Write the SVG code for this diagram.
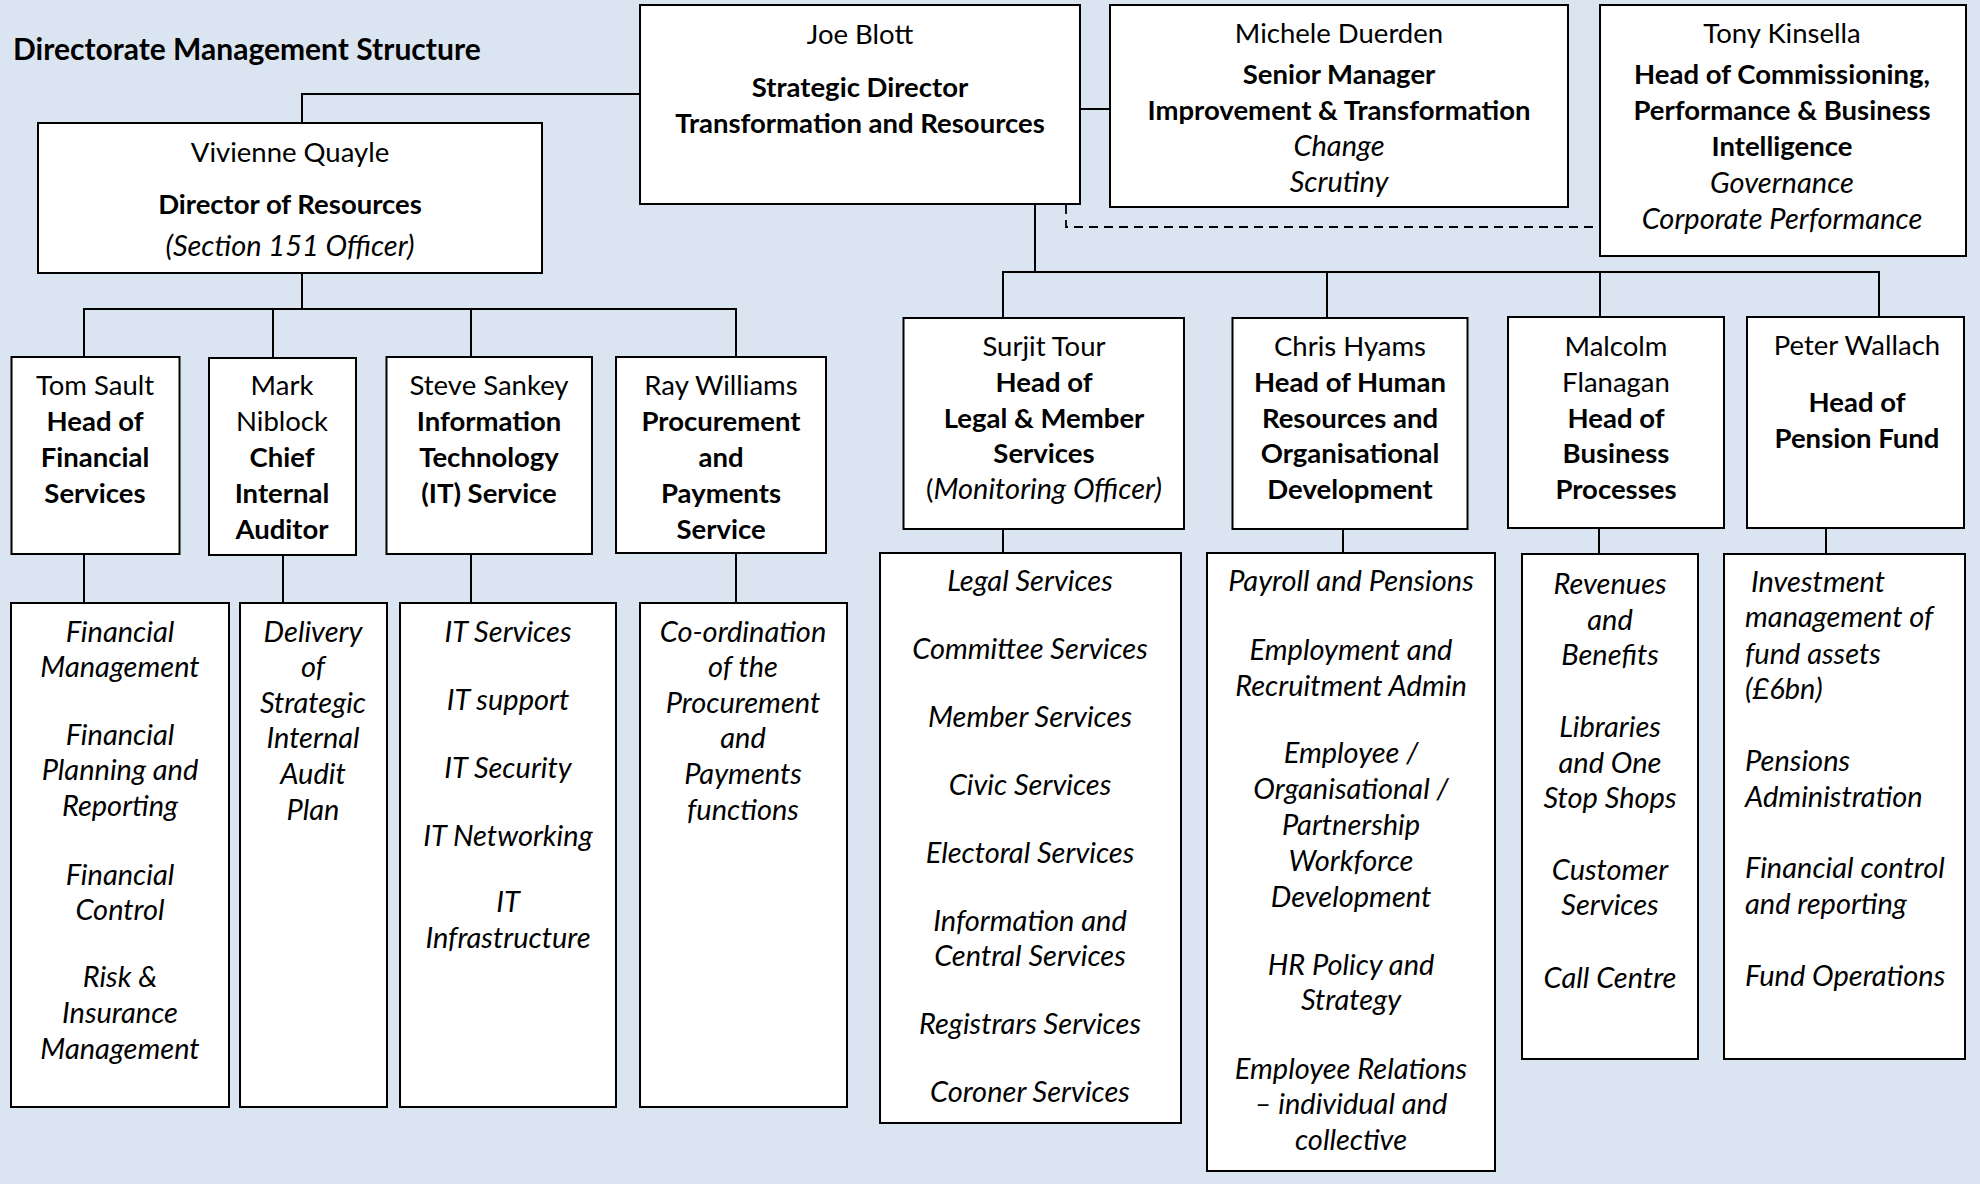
<svg xmlns="http://www.w3.org/2000/svg" width="1980" height="1184" viewBox="0 0 1980 1184">
<style>
.bg{fill:#dbe5f1}
.box{fill:#ffffff;stroke:#000000;stroke-width:2}
.ln{fill:none;stroke:#000000;stroke-width:2}
.dash{fill:none;stroke:#000000;stroke-width:1.8;stroke-dasharray:9 6}
text{font-family:Lato,"Liberation Sans",sans-serif;font-size:27.5px;fill:#000000;text-anchor:middle}
.b{font-weight:bold}
.i{font-style:italic;font-size:29px}
.l{text-anchor:start}
.title{font-weight:bold;text-anchor:start;font-size:30px}
</style>
<rect class="bg" x="0" y="0" width="1980" height="1184"/>
<text class="title" x="13" y="60">Directorate Management Structure</text>

<g id="connectors">
<path class="ln" d="M640,94 H302 V123"/>
<path class="ln" d="M1080,109 H1110"/>
<path class="dash" d="M1066,205 V227 H1600"/>
<path class="ln" d="M1035,204 V272"/>
<path class="ln" d="M1003,318 V272 H1879 V317"/>
<path class="ln" d="M1327,272 V318"/>
<path class="ln" d="M1600,272 V317"/>
<path class="ln" d="M1003,529 V553"/>
<path class="ln" d="M1343,529 V553"/>
<path class="ln" d="M1599,528 V554"/>
<path class="ln" d="M1826,528 V554"/>
<path class="ln" d="M302,273 V309"/>
<path class="ln" d="M84,357 V309 H736 V357"/>
<path class="ln" d="M273,309 V358"/>
<path class="ln" d="M471,309 V357"/>
<path class="ln" d="M84,554 V603"/>
<path class="ln" d="M283,555 V603"/>
<path class="ln" d="M471,554 V603"/>
<path class="ln" d="M736,553 V603"/>
</g>

<g id="joe-blott">
<rect class="box" x="640" y="5" width="440" height="199"/>
<text x="860" y="44">Joe Blott</text>
<text class="b" x="860" y="97">Strategic Director</text>
<text class="b" x="860" y="133">Transformation and Resources</text>
</g>

<g id="michele-duerden">
<rect class="box" x="1110" y="5" width="458" height="202"/>
<text x="1339" y="43">Michele Duerden</text>
<text class="b" x="1339" y="84">Senior Manager</text>
<text class="b" x="1339" y="120">Improvement &amp; Transformation</text>
<text class="i" x="1339" y="156">Change</text>
<text class="i" x="1339" y="192">Scrutiny</text>
</g>

<g id="tony-kinsella">
<rect class="box" x="1600" y="5" width="366" height="251"/>
<text x="1782" y="43">Tony Kinsella</text>
<text class="b" x="1782" y="84">Head of Commissioning,</text>
<text class="b" x="1782" y="120">Performance &amp; Business</text>
<text class="b" x="1782" y="156">Intelligence</text>
<text class="i" x="1782" y="193">Governance</text>
<text class="i" x="1782" y="229">Corporate Performance</text>
</g>

<g id="vivienne-quayle">
<rect class="box" x="38" y="123" width="504" height="150"/>
<text x="290" y="162">Vivienne Quayle</text>
<text class="b" x="290" y="214">Director of Resources</text>
<text class="i" x="290" y="256">(Section 151 Officer)</text>
</g>

<g id="tom-sault">
<rect class="box" x="11.5" y="357" width="168" height="197"/>
<text x="95" y="395">Tom Sault</text>
<text class="b" x="95" y="431">Head of</text>
<text class="b" x="95" y="467">Financial</text>
<text class="b" x="95" y="503">Services</text>
</g>

<g id="mark-niblock">
<rect class="box" x="209" y="358" width="147" height="197"/>
<text x="282" y="395">Mark</text>
<text x="282" y="431">Niblock</text>
<text class="b" x="282" y="467">Chief</text>
<text class="b" x="282" y="503">Internal</text>
<text class="b" x="282" y="539">Auditor</text>
</g>

<g id="steve-sankey">
<rect class="box" x="386.5" y="357" width="205.5" height="197"/>
<text x="489" y="395">Steve Sankey</text>
<text class="b" x="489" y="431">Information</text>
<text class="b" x="489" y="467">Technology</text>
<text class="b" x="489" y="503">(IT) Service</text>
</g>

<g id="ray-williams">
<rect class="box" x="616" y="357" width="210" height="196"/>
<text x="721" y="395">Ray Williams</text>
<text class="b" x="721" y="431">Procurement</text>
<text class="b" x="721" y="467">and</text>
<text class="b" x="721" y="503">Payments</text>
<text class="b" x="721" y="539">Service</text>
</g>

<g id="financial-services-list">
<rect class="box" x="11" y="603" width="218" height="504"/>
<text class="i" x="120" y="642">Financial</text>
<text class="i" x="120" y="677">Management</text>
<text class="i" x="120" y="745">Financial</text>
<text class="i" x="120" y="780">Planning and</text>
<text class="i" x="120" y="816">Reporting</text>
<text class="i" x="120" y="885">Financial</text>
<text class="i" x="120" y="920">Control</text>
<text class="i" x="120" y="987">Risk &amp;</text>
<text class="i" x="120" y="1023">Insurance</text>
<text class="i" x="120" y="1059">Management</text>
</g>

<g id="internal-audit-list">
<rect class="box" x="240" y="603" width="147" height="504"/>
<text class="i" x="313" y="642">Delivery</text>
<text class="i" x="313" y="677">of</text>
<text class="i" x="313" y="713">Strategic</text>
<text class="i" x="313" y="748">Internal</text>
<text class="i" x="313" y="784">Audit</text>
<text class="i" x="313" y="820">Plan</text>
</g>

<g id="it-list">
<rect class="box" x="400" y="603" width="216" height="504"/>
<text class="i" x="508" y="642">IT Services</text>
<text class="i" x="508" y="710">IT support</text>
<text class="i" x="508" y="778">IT Security</text>
<text class="i" x="508" y="846">IT Networking</text>
<text class="i" x="508" y="912">IT</text>
<text class="i" x="508" y="948">Infrastructure</text>
</g>

<g id="procurement-list">
<rect class="box" x="640" y="603" width="207" height="504"/>
<text class="i" x="743" y="642">Co-ordination</text>
<text class="i" x="743" y="677">of the</text>
<text class="i" x="743" y="713">Procurement</text>
<text class="i" x="743" y="748">and</text>
<text class="i" x="743" y="784">Payments</text>
<text class="i" x="743" y="820">functions</text>
</g>

<g id="surjit-tour">
<rect class="box" x="903.5" y="318" width="280.5" height="211"/>
<text x="1044" y="356">Surjit Tour</text>
<text class="b" x="1044" y="392">Head of</text>
<text class="b" x="1044" y="428">Legal &amp; Member</text>
<text class="b" x="1044" y="463">Services</text>
<text x="1044" y="499">(<tspan class="i">Monitoring Officer)</tspan></text>
</g>

<g id="chris-hyams">
<rect class="box" x="1232.5" y="318" width="235" height="211"/>
<text x="1350" y="356">Chris Hyams</text>
<text class="b" x="1350" y="392">Head of Human</text>
<text class="b" x="1350" y="428">Resources and</text>
<text class="b" x="1350" y="463">Organisational</text>
<text class="b" x="1350" y="499">Development</text>
</g>

<g id="malcolm-flanagan">
<rect class="box" x="1508" y="317" width="216" height="211"/>
<text x="1616" y="356">Malcolm</text>
<text x="1616" y="392">Flanagan</text>
<text class="b" x="1616" y="428">Head of</text>
<text class="b" x="1616" y="463">Business</text>
<text class="b" x="1616" y="499">Processes</text>
</g>

<g id="peter-wallach">
<rect class="box" x="1747" y="317" width="217" height="211"/>
<text x="1857" y="355">Peter Wallach</text>
<text class="b" x="1857" y="412">Head of</text>
<text class="b" x="1857" y="448">Pension Fund</text>
</g>

<g id="legal-list">
<rect class="box" x="880" y="553" width="301" height="570"/>
<text class="i" x="1030" y="591">Legal Services</text>
<text class="i" x="1030" y="659">Committee Services</text>
<text class="i" x="1030" y="727">Member Services</text>
<text class="i" x="1030" y="795">Civic Services</text>
<text class="i" x="1030" y="863">Electoral Services</text>
<text class="i" x="1030" y="931">Information and</text>
<text class="i" x="1030" y="966">Central Services</text>
<text class="i" x="1030" y="1034">Registrars Services</text>
<text class="i" x="1030" y="1102">Coroner Services</text>
</g>

<g id="hr-list">
<rect class="box" x="1207" y="553" width="288" height="618"/>
<text class="i" x="1351" y="591">Payroll and Pensions</text>
<text class="i" x="1351" y="660">Employment and</text>
<text class="i" x="1351" y="696">Recruitment Admin</text>
<text class="i" x="1351" y="763">Employee /</text>
<text class="i" x="1351" y="799">Organisational /</text>
<text class="i" x="1351" y="835">Partnership</text>
<text class="i" x="1351" y="871">Workforce</text>
<text class="i" x="1351" y="907">Development</text>
<text class="i" x="1351" y="975">HR Policy and</text>
<text class="i" x="1351" y="1010">Strategy</text>
<text class="i" x="1351" y="1079">Employee Relations</text>
<text class="i" x="1351" y="1114">– individual and</text>
<text class="i" x="1351" y="1150">collective</text>
</g>

<g id="business-processes-list">
<rect class="box" x="1522" y="554" width="176" height="505"/>
<text class="i" x="1610" y="594">Revenues</text>
<text class="i" x="1610" y="630">and</text>
<text class="i" x="1610" y="665">Benefits</text>
<text class="i" x="1610" y="737">Libraries</text>
<text class="i" x="1610" y="773">and One</text>
<text class="i" x="1610" y="808">Stop Shops</text>
<text class="i" x="1610" y="880">Customer</text>
<text class="i" x="1610" y="915">Services</text>
<text class="i" x="1610" y="988">Call Centre</text>
</g>

<g id="pension-fund-list">
<rect class="box" x="1724" y="554" width="241" height="505"/>
<text class="i l" x="1751" y="592">Investment</text>
<text class="i l" x="1745" y="627">management of</text>
<text class="i l" x="1745" y="664">fund assets</text>
<text class="i l" x="1745" y="699">(£6bn)</text>
<text class="i l" x="1745" y="771">Pensions</text>
<text class="i l" x="1745" y="807">Administration</text>
<text class="i l" x="1745" y="878">Financial control</text>
<text class="i l" x="1745" y="914">and reporting</text>
<text class="i l" x="1745" y="986">Fund Operations</text>
</g>
</svg>
